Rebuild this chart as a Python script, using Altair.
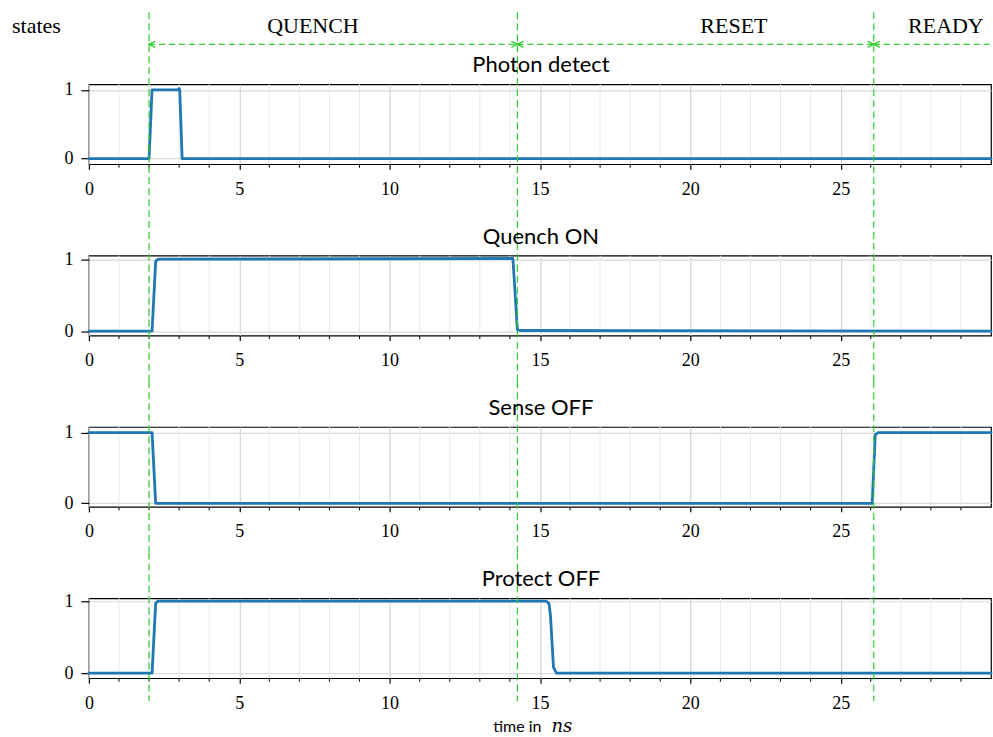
import altair as alt
import pandas as pd

# ---- time axis (ns) ----
x_min, x_max = 0, 30
major_ticks = [0, 5, 10, 15, 20, 25]
minor_ticks = [1, 2, 3, 4, 6, 7, 8, 9, 11, 12, 13, 14,
               16, 17, 18, 19, 21, 22, 23, 24, 26, 27, 28, 29]

# ---- signal traces: time (ns) and logic level ----
photon_t = [0, 2.0, 2.1, 2.95, 3.0, 3.02, 3.1, 30]
photon_v = [0, 0, 1, 1, 1.02, 1.0, 0, 0]

quench_t = [0, 2.1, 2.22, 2.3, 14.1, 14.25, 14.35, 30]
quench_v = [0, 0, 0.97, 1.0, 1.01, 0.02, 0.01, 0.0]

sense_t = [0, 2.1, 2.22, 26.05, 26.15, 26.25, 30]
sense_v = [1, 1, 0, 0, 0.97, 1, 1]

protect_t = [0, 2.1, 2.22, 2.3, 15.2, 15.3, 15.35, 15.45, 15.55, 30]
protect_v = [0, 0, 0.97, 1, 1, 0.97, 0.8, 0.08, 0, 0]

panel_titles = ["Photon detect", "Quench ON", "Sense OFF", "Protect OFF"]
y_domains = [[-0.08, 1.08], [-0.06, 1.05], [-0.05, 1.08], [-0.07, 1.04]]

# ---- state phases ----
state_names = ["QUENCH", "RESET", "READY"]
state_start = [2.0, 14.25, 26.1]
state_end = [14.25, 26.1, 30]
state_label_x = [7.45, 21.45, 28.5]

# ---- styling ----
W, H = 903, 80
GAP = 91.5
GREEN = "#32cd32"
BLUE = "#1f77b4"
SERIF = "Liberation Serif"
SANS = "Lato"

x_axis = alt.Axis(values=major_ticks, grid=True, gridColor="#cccccc", gridWidth=1,
                  tickSize=5, tickColor="black", tickWidth=1.2, domain=False,
                  labelFont=SERIF, labelFontSize=18, labelColor="black",
                  labelPadding=11, labelAngle=0, labelFlush=False, title=None)
x_scale = alt.Scale(domain=[x_min, x_max], nice=False, zero=False)


def xq(field="t"):
    return alt.X(f"{field}:Q", scale=x_scale, axis=x_axis)


def panel(ts, vs, title, ydom, top, bottom, extra=()):
    sig = pd.DataFrame({"t": ts, "v": vs})
    minor = pd.DataFrame({"t": minor_ticks})
    edges = pd.DataFrame({"t": state_start})

    minor_grid = alt.Chart(minor).mark_rule(color="#e9e9e9", strokeWidth=1).encode(
        x=xq(), y=alt.value(0), y2=alt.value(H))
    minor_tick = alt.Chart(minor).mark_rule(color="black", strokeWidth=1).encode(
        x=xq(), y=alt.value(H), y2=alt.value(H + 3.5))
    line = alt.Chart(sig).mark_line(color=BLUE, strokeWidth=2.8,
                                    strokeJoin="round", strokeCap="round").encode(
        x=xq(),
        y=alt.Y("v:Q", scale=alt.Scale(domain=ydom, nice=False, zero=False),
                axis=alt.Axis(values=[0, 1], format="d", grid=True,
                              gridColor="#dadada", gridWidth=1.2,
                              tickSize=8, tickColor="black", tickWidth=1.2,
                              domain=False, labelFont=SERIF, labelFontSize=18,
                              labelColor="black", labelPadding=8, title=None)))
    boundaries = alt.Chart(edges).mark_rule(color=GREEN, strokeWidth=1.2,
                                            strokeDash=[7, 4]).encode(
        x=xq(), y=alt.value(top), y2=alt.value(bottom))
    heading = alt.Chart(pd.DataFrame({"s": [title]})).mark_text(
        font=SANS, fontSize=22, color="black", align="center",
        baseline="alphabetic").encode(
        x=alt.value(W / 2 + 1), y=alt.value(-12), text="s:N")

    layers = [minor_grid, minor_tick, line, boundaries, heading] + list(extra)
    return alt.layer(*layers).properties(width=W, height=H)


# phase annotations above the first panel
arrows = pd.DataFrame({"t": state_start, "t2": state_end})
heads_left = pd.DataFrame({"t": state_start})
heads_right = pd.DataFrame({"t": [e for e in state_end if e < x_max]})
labels = pd.DataFrame({"t": state_label_x, "name": state_names})
ARROW_Y = -40
TEXT_Y = -51

shafts = alt.Chart(arrows).mark_rule(color=GREEN, strokeWidth=1.2,
                                     strokeDash=[6, 4]).encode(
    x=xq(), x2=alt.X2("t2:Q"), y=alt.value(ARROW_Y))
left_heads = alt.Chart(heads_left).mark_point(
    shape="M2,-1L0,0L2,1", size=36, filled=False, color=GREEN,
    strokeWidth=1.4, opacity=1).encode(x=xq(), y=alt.value(ARROW_Y))
right_heads = alt.Chart(heads_right).mark_point(
    shape="M-2,-1L0,0L-2,1", size=36, filled=False, color=GREEN,
    strokeWidth=1.4, opacity=1).encode(x=xq(), y=alt.value(ARROW_Y))
state_text = alt.Chart(labels).mark_text(
    font=SERIF, fontSize=22, color="black", align="center",
    baseline="alphabetic").encode(x=xq(), y=alt.value(TEXT_Y), text="name:N")
states_word = alt.Chart(pd.DataFrame({"s": ["states"]})).mark_text(
    font=SERIF, fontSize=22, color="black", align="left",
    baseline="alphabetic").encode(x=alt.value(-77), y=alt.value(TEXT_Y), text="s:N")

# x-axis caption under the last panel
cap = pd.DataFrame({"a": ["time in"], "b": ["ns"]})
cap_sans = alt.Chart(cap).mark_text(font=SANS, fontSize=16, color="black",
                                    align="right", baseline="alphabetic").encode(
    x=alt.value(453), y=alt.value(134), text="a:N")
cap_math = alt.Chart(cap).mark_text(font="DejaVu Serif", fontSize=18,
                                    fontStyle="italic", color="black",
                                    align="left", baseline="alphabetic").encode(
    x=alt.value(463), y=alt.value(134), text="b:N")

half = GAP / 2
p1 = panel(photon_t, photon_v, panel_titles[0], y_domains[0], -72, H + half,
           extra=[shafts, left_heads, right_heads, state_text, states_word])
p2 = panel(quench_t, quench_v, panel_titles[1], y_domains[1], -half, H + half)
p3 = panel(sense_t, sense_v, panel_titles[2], y_domains[2], -half, H + half)
p4 = panel(protect_t, protect_v, panel_titles[3], y_domains[3], -half, 103,
           extra=[cap_sans, cap_math])

chart = alt.vconcat(p1, p2, p3, p4, spacing=GAP, bounds="flush").resolve_scale(
    x="independent", y="independent").configure_view(
    stroke="black", strokeWidth=1.2).properties(
    padding={"left": 11, "top": 10, "right": 0, "bottom": 0},
    background="white")

chart.save("out.html", embed_options={"renderer": "svg", "actions": False})
